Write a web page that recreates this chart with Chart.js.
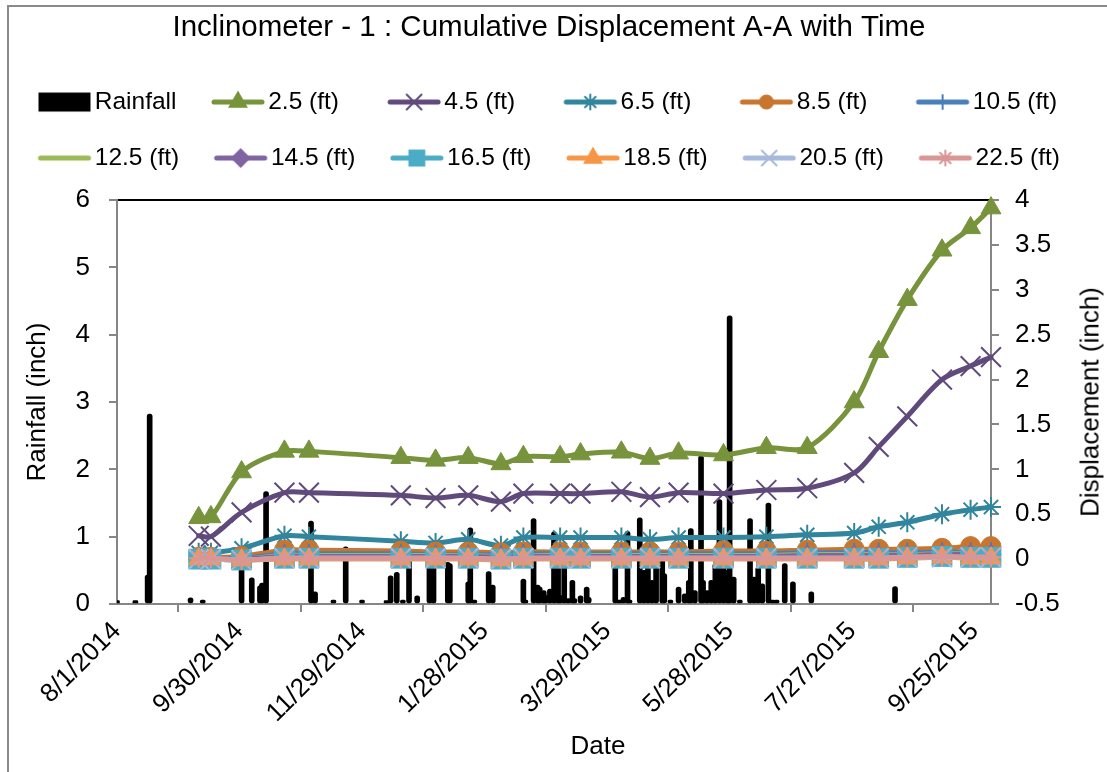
<!DOCTYPE html>
<html>
<head>
<meta charset="utf-8">
<title>Inclinometer - 1</title>
<script src="https://cdn.jsdelivr.net/npm/chart.js@4.4.1/dist/chart.umd.min.js"></script>
<style>
  html, body { margin: 0; padding: 0; background: #fff; overflow: hidden; }
  #wrap { position: relative; width: 1107px; height: 772px; }
  #frame { position: absolute; left: 7px; top: 5px; width: 1200px; height: 900px; border: 2px solid #8a8a8a; }
  #chartIncl { position: absolute; left: 0; top: 0; }
  .axisTitle {
    position: absolute; transform: translate(-50%, -50%);
    font: 26px "Liberation Sans", Arial, sans-serif; color: #000; white-space: nowrap;
  }
  #dispTitle { left: 1090px; top: 402px; transform: translate(-50%, -50%) rotate(-90deg); }
  #dateTitle { left: 598px; top: 745px; }
</style>
</head>
<body>
<div id="wrap">
  <div id="frame"></div>
  <canvas id="chartIncl" width="1107" height="772"></canvas>
  <div id="dispTitle" class="axisTitle">Displacement (inch)</div>
  <div id="dateTitle" class="axisTitle">Date</div>
</div>
<script>
// x axis runs in days counted from this date
const axisStart = "8/1/2014";
const xTickStep = 60;

// inclinometer survey dates
const surveyDates = ["9/10/2014", "9/16/2014", "10/1/2014", "10/22/2014", "11/3/2014", "12/18/2014",
  "1/4/2015", "1/20/2015", "2/5/2015", "2/16/2015", "3/6/2015", "3/16/2015", "4/5/2015", "4/19/2015",
  "5/3/2015", "5/25/2015", "6/15/2015", "7/5/2015", "7/28/2015", "8/9/2015", "8/23/2015", "9/9/2015",
  "9/23/2015", "10/3/2015"];

// cumulative displacement (inch) per depth
const disp25 = [0.46, 0.47, 0.97, 1.20, 1.20, 1.13, 1.10, 1.13, 1.06, 1.14, 1.14, 1.17, 1.19, 1.12, 1.18, 1.16, 1.24, 1.24, 1.75, 2.31, 2.89, 3.44, 3.69, 3.91];
const disp45 = [0.26, 0.25, 0.52, 0.74, 0.74, 0.71, 0.68, 0.71, 0.64, 0.73, 0.73, 0.73, 0.75, 0.69, 0.74, 0.73, 0.77, 0.79, 0.96, 1.25, 1.59, 2.00, 2.15, 2.25];
const disp65 = [0.07, 0.07, 0.12, 0.26, 0.25, 0.20, 0.18, 0.22, 0.15, 0.24, 0.24, 0.24, 0.24, 0.22, 0.24, 0.24, 0.25, 0.27, 0.29, 0.36, 0.41, 0.50, 0.55, 0.58];
const disp85 = [0.02, 0.02, 0.03, 0.10, 0.10, 0.09, 0.08, 0.08, 0.07, 0.08, 0.08, 0.08, 0.08, 0.08, 0.08, 0.09, 0.09, 0.10, 0.11, 0.11, 0.11, 0.12, 0.14, 0.14];
const disp105 = [0.01, 0.01, 0.01, 0.06, 0.06, 0.06, 0.05, 0.05, 0.05, 0.06, 0.06, 0.06, 0.06, 0.06, 0.06, 0.06, 0.06, 0.07, 0.07, 0.07, 0.07, 0.08, 0.08, 0.08];
const disp125 = [0.01, 0.01, 0.00, 0.04, 0.04, 0.04, 0.04, 0.04, 0.03, 0.04, 0.04, 0.04, 0.04, 0.04, 0.04, 0.04, 0.04, 0.05, 0.05, 0.05, 0.05, 0.06, 0.06, 0.06];
const disp145 = [0.00, 0.00, 0.00, 0.03, 0.03, 0.03, 0.03, 0.03, 0.02, 0.03, 0.03, 0.03, 0.03, 0.03, 0.03, 0.03, 0.03, 0.04, 0.04, 0.04, 0.04, 0.05, 0.05, 0.05];
const disp165 = [0.00, 0.00, -0.01, 0.01, 0.01, 0.01, 0.01, 0.01, 0.00, 0.01, 0.01, 0.01, 0.01, 0.01, 0.01, 0.01, 0.01, 0.01, 0.01, 0.01, 0.02, 0.03, 0.02, 0.02];
const disp185 = [0.00, 0.00, -0.01, 0.00, 0.00, 0.00, 0.00, 0.00, -0.01, 0.00, 0.00, 0.00, 0.00, 0.00, 0.00, 0.00, 0.00, 0.00, 0.00, 0.00, 0.01, 0.02, 0.01, 0.01];
const disp205 = [0.00, 0.00, -0.01, 0.01, 0.01, 0.01, 0.01, 0.01, 0.00, 0.01, 0.01, 0.01, 0.01, 0.01, 0.01, 0.01, 0.01, 0.01, 0.01, 0.01, 0.02, 0.02, 0.02, 0.02];
const disp225 = [0.01, 0.01, -0.01, 0.01, 0.01, 0.01, 0.01, 0.01, 0.00, 0.01, 0.01, 0.01, 0.01, 0.01, 0.01, 0.01, 0.01, 0.01, 0.01, 0.01, 0.02, 0.03, 0.02, 0.02];

const depthLabels = ["2.5 (ft)", "4.5 (ft)", "6.5 (ft)", "8.5 (ft)", "10.5 (ft)", "12.5 (ft)",
  "14.5 (ft)", "16.5 (ft)", "18.5 (ft)", "20.5 (ft)", "22.5 (ft)"];

// daily rainfall (inch)
const rainDates = ["8/1/2014", "8/10/2014", "8/16/2014", "8/17/2014", "9/6/2014", "9/12/2014", "10/1/2014",
  "10/6/2014", "10/10/2014", "10/11/2014", "10/13/2014", "11/4/2014", "11/6/2014", "11/15/2014", "11/21/2014",
  "11/29/2014", "12/11/2014", "12/13/2014", "12/16/2014", "12/19/2014", "12/22/2014", "12/26/2014", "1/1/2015",
  "1/3/2015", "1/10/2015", "1/11/2015", "1/20/2015", "1/21/2015", "1/23/2015", "1/30/2015", "2/1/2015",
  "2/16/2015", "2/17/2015", "2/21/2015", "2/23/2015", "2/24/2015", "2/26/2015", "2/27/2015", "3/1/2015",
  "3/3/2015", "3/5/2015", "3/6/2015", "3/8/2015", "3/10/2015", "3/12/2015", "3/13/2015", "3/16/2015",
  "3/19/2015", "3/20/2015", "4/2/2015", "4/4/2015", "4/6/2015", "4/8/2015", "4/9/2015", "4/14/2015",
  "4/16/2015", "4/18/2015", "4/20/2015", "4/22/2015", "4/25/2015", "4/26/2015", "4/29/2015", "5/3/2015",
  "5/6/2015", "5/8/2015", "5/9/2015", "5/11/2015", "5/14/2015", "5/15/2015", "5/17/2015", "5/19/2015",
  "5/21/2015", "5/23/2015", "5/25/2015", "5/27/2015", "5/28/2015", "5/30/2015", "6/2/2015", "6/7/2015",
  "6/9/2015", "6/11/2015", "6/13/2015", "6/16/2015", "6/18/2015", "6/20/2015", "6/24/2015", "6/28/2015",
  "7/7/2015", "8/17/2015"];
const rainInches = [0.05, 0.05, 0.43, 2.82, 0.09, 0.06, 0.52,
  0.39, 0.27, 0.31, 1.67, 1.23, 0.18, 0.06, 0.85,
  0.06, 0.05, 0.42, 0.47, 0.06, 0.65, 0.12, 0.70,
  0.55, 0.62, 0.60, 0.33, 1.13, 0.06, 0.48, 0.28,
  0.37, 0.06, 1.27, 0.28, 0.25, 0.20, 0.13, 0.22,
  1.07, 0.85, 0.13, 0.60, 0.08, 0.35, 0.08, 0.12,
  0.25, 0.10, 0.75, 0.06, 0.10, 1.08, 0.06, 1.28,
  0.50, 0.90, 0.35, 0.55, 0.80, 0.45, 0.06, 0.25,
  0.15, 0.35, 1.12, 0.20, 2.20, 0.35, 0.20, 0.35,
  0.60, 1.55, 0.90, 0.50, 4.28, 0.40, 0.06, 1.27,
  0.40, 0.55, 0.30, 1.50, 0.06, 0.06, 0.60, 0.33,
  0.18, 0.26];

const FONT = '"Liberation Sans", Arial, sans-serif';
Chart.defaults.font.family = FONT;
Chart.defaults.color = "#000";

const DAY_MS = 86400000;
function toUTC(s) {
  const [m, d, y] = s.split("/").map(Number);
  return Date.UTC(y, m - 1, d);
}
const startMs = toUTC(axisStart);
const dayOf = (s) => Math.round((toUTC(s) - startMs) / DAY_MS);
function dayLabel(v) {
  const dt = new Date(startMs + v * DAY_MS);
  return (dt.getUTCMonth() + 1) + "/" + dt.getUTCDate() + "/" + dt.getUTCFullYear();
}

const surveyDays = surveyDates.map(dayOf);
const rainDays = rainDates.map(dayOf);
const lastDay = Math.max(...surveyDays);
const dispSeries = [disp25, disp45, disp65, disp85, disp105, disp125, disp145, disp165, disp185, disp205, disp225];

// marker look for each depth line
const seriesStyle = [
  { color: "#77933C", marker: "triangle", r: 11.5, lr: 9.5 },
  { color: "#604A7B", marker: "crossRot", r: 14, lr: 10.5 },
  { color: "#31859C", marker: "star", r: 10, lr: 7.5 },
  { color: "#C8762F", marker: "circle", r: 10, lr: 6.5 },
  { color: "#4A7EBB", marker: "cross", r: 10, lr: 7 },
  { color: "#9BBB59", marker: null, r: 0, lr: 0 },
  { color: "#8064A2", marker: "rectRot", r: 10, lr: 8.5 },
  { color: "#4BACC6", marker: "rect", r: 14, lr: 10.5 },
  { color: "#F79646", marker: "triangle", r: 11.5, lr: 9.5 },
  { color: "#A7B9DC", marker: "crossRot", r: 14, lr: 10.5 },
  { color: "#D99694", marker: "star", r: 10, lr: 7.5 },
];
const strokedMarkers = ["crossRot", "star", "cross"];

// small canvases used as legend symbols: line with its marker
function lineIcon(st) {
  const c = document.createElement("canvas");
  c.width = 72; c.height = 26;
  const g = c.getContext("2d");
  g.strokeStyle = st.color;
  g.lineWidth = 5;
  g.lineCap = "round";
  g.beginPath();
  g.moveTo(18, 13);
  g.lineTo(66, 13);
  g.stroke();
  if (st.marker) {
    g.fillStyle = st.color;
    g.lineWidth = 2;
    Chart.helpers.drawPoint(g, { pointStyle: st.marker, radius: st.lr, borderWidth: 2, rotation: 0 }, 42, 13);
  }
  return c;
}
function boxIcon(color) {
  const c = document.createElement("canvas");
  c.width = 72; c.height = 26;
  const g = c.getContext("2d");
  g.fillStyle = color;
  g.fillRect(16, 3.5, 52, 19);
  return c;
}

const rainSet = {
  type: "bar",
  label: "Rainfall",
  yAxisID: "y",
  order: 20,
  data: rainDays.map((d, i) => ({ x: d, y: rainInches[i] })),
  backgroundColor: "#000",
  barThickness: 5,
  borderRadius: 3,
  borderSkipped: false,
};

const lineSets = dispSeries.map((vals, i) => {
  const st = seriesStyle[i];
  return {
    type: "line",
    label: depthLabels[i],
    yAxisID: "y1",
    order: 12 - i,
    clip: false,
    data: surveyDays.map((d, k) => ({ x: d, y: vals[k] })),
    borderColor: st.color,
    borderWidth: 5,
    borderCapStyle: "round",
    borderJoinStyle: "round",
    tension: 0.3,
    pointStyle: st.marker || "circle",
    pointRadius: st.marker ? st.r : 0,
    pointHoverRadius: st.marker ? st.r : 0,
    pointBackgroundColor: st.color,
    pointBorderColor: st.color,
    pointBorderWidth: strokedMarkers.includes(st.marker) ? 2 : 1,
  };
});

const icons = [boxIcon("#000")].concat(seriesStyle.map(lineIcon));
// single-digit depths get two spaces so every legend entry is the same width
const legendText = (s) => (/^\d\./.test(s) ? s + "  " : s);

new Chart(document.querySelector("#chartIncl"), {
  type: "line",
  data: { datasets: [rainSet].concat(lineSets) },
  options: {
    responsive: false,
    animation: false,
    layout: { padding: { left: 3, right: 12, top: 10, bottom: 0 } },
    plugins: {
      title: {
        display: true,
        text: "Inclinometer - 1 : Cumulative Displacement A-A with Time",
        font: { size: 29.5, weight: "normal" },
        color: "#000",
        padding: { top: 0, bottom: 12.9 },
      },
      legend: {
        position: "top",
        align: "start",
        labels: {
          usePointStyle: true,
          pointStyleWidth: 48,
          padding: 31.5,
          font: { size: 24.5 },
          color: "#000",
          generateLabels: (chart) => chart.data.datasets.map((ds, i) => ({
            text: legendText(ds.label),
            pointStyle: icons[i],
            datasetIndex: i,
            hidden: false,
            fontColor: "#000",
            fillStyle: "rgba(0,0,0,0)",
            strokeStyle: "rgba(0,0,0,0)",
            lineWidth: 0,
          })),
        },
      },
      tooltip: { enabled: false },
    },
    scales: {
      x: {
        type: "linear",
        position: "bottom",
        min: 0,
        max: lastDay,
        offset: false,
        // one tick every 60 days from the start date
        afterBuildTicks: (s) => {
          const t = [];
          for (let v = 0; v <= lastDay; v += xTickStep) t.push({ value: v });
          s.ticks = t;
        },
        afterFit: (s) => { s.height = 168; },
        ticks: {
          autoSkip: false,
          minRotation: 45,
          maxRotation: 45,
          padding: 4,
          font: { size: 26 },
          color: "#000",
          callback: (v) => dayLabel(v),
        },
        grid: { drawOnChartArea: false, tickLength: 8, color: "#868686", lineWidth: 2 },
        border: { color: "#868686", width: 2 },
      },
      x2: {
        type: "linear",
        position: "top",
        min: 0,
        max: lastDay,
        afterFit: (s) => { s.height = 19.7; },
        ticks: { display: false },
        grid: { drawOnChartArea: false, drawTicks: false },
        border: { color: "#000", width: 2 },
      },
      y: {
        position: "left",
        min: 0,
        max: 6,
        afterFit: (s) => { s.width = 114; },
        ticks: { stepSize: 1, padding: 19, font: { size: 26 }, color: "#000", callback: (v) => String(v) },
        grid: { drawOnChartArea: false, tickLength: 8, color: "#868686", lineWidth: 2 },
        border: { color: "#868686", width: 2 },
        title: { display: true, text: "Rainfall (inch)", font: { size: 26 }, color: "#000", padding: { top: 19, bottom: 0 } },
      },
      y1: {
        position: "right",
        min: -0.5,
        max: 4,
        afterFit: (s) => { s.width = 1107 - 12 - 991; },
        ticks: { stepSize: 0.5, padding: 16, font: { size: 26 }, color: "#000", callback: (v) => String(v) },
        grid: { drawOnChartArea: false, tickLength: 8, color: "#868686", lineWidth: 2 },
        border: { color: "#868686", width: 2 },
      },
    },
  },
});
</script>
</body>
</html>
